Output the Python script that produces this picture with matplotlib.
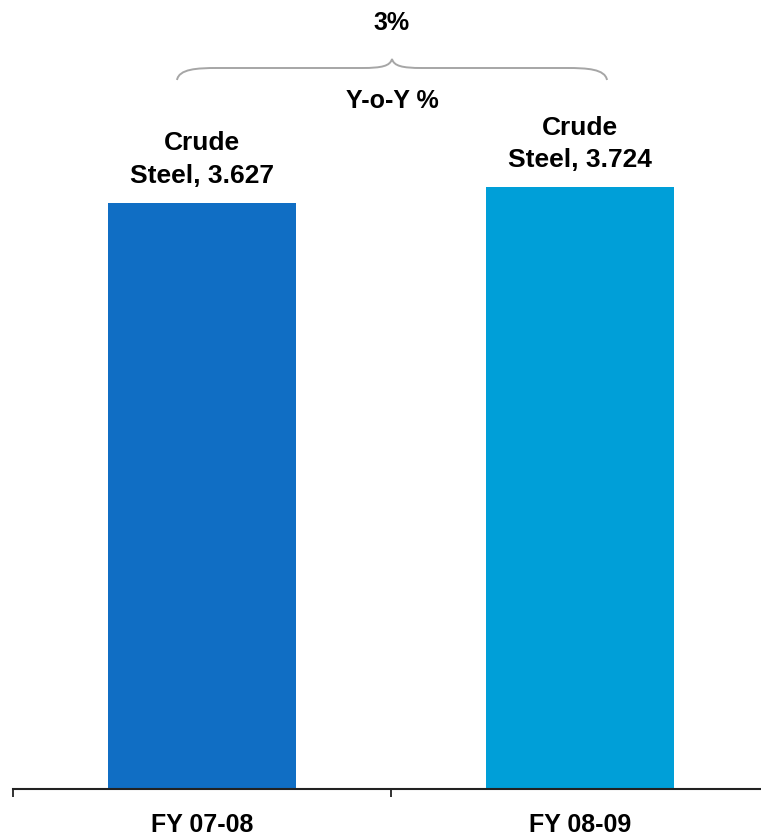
import matplotlib
matplotlib.use("Agg")
import matplotlib.pyplot as plt
from matplotlib.path import Path
from matplotlib.patches import PathPatch
from matplotlib.transforms import Affine2D

categories = ["FY 07-08", "FY 08-09"]
series_name = "Crude\nSteel"
values = [3.627, 3.724]
colors = ["#106EC4", "#009FD8"]
growth_label = "3%"
growth_caption = "Y-o-Y %"

W, H = 761, 839
fig = plt.figure(figsize=(W / 100, H / 100), dpi=100)
font = ["Liberation Sans", "DejaVu Sans"]

ax_left, ax_bottom = 13, 789  # pixels (from top)
ax = fig.add_axes([ax_left / W, (H - ax_bottom) / H, (W - ax_left) / W, ax_bottom / H])
unit_px = 378.0

x = list(range(len(categories)))
ax.bar(x, values, width=0.497, color=colors, zorder=2)

for xi, v in zip(x, values):
    ax.annotate(f"{series_name}, {v:.3f}", (xi, v), xytext=(0, 14.4), textcoords="offset points",
                ha="center", va="baseline", fontsize=19, fontweight="bold", family=font,
                linespacing=1.45)

for s in ["top", "right", "left"]:
    ax.spines[s].set_visible(False)
ax.spines["bottom"].set_linewidth(1.5)
ax.spines["bottom"].set_color("#222222")
ax.set_yticks([])
ax.set_xticks([-0.5, 0.5, 1.5])
ax.set_xticklabels([])
ax.tick_params(axis="x", which="major", length=5.5, width=1.3, color="#222222", direction="out")
ax.set_xticks(x, minor=True)
ax.set_xticklabels(categories, minor=True, fontsize=18, fontweight="bold", family=font)
ax.tick_params(axis="x", which="minor", length=0, pad=17)
ax.set_xlim(-0.5, -0.5 + (W - ax_left) / unit_px)
ax.set_ylim(0, ax_bottom / 161.6)

# Brace (figure pixel coordinates, origin top-left)
tr = Affine2D().scale(1, -1).translate(0, H)
x0, x1, xc = 177, 607, 392
ye, yf, yt = 80, 68, 59
verts = [
    (x0, ye), (x0 + 2, yf + 1), (x0 + 20, yf), (x0 + 40, yf),
    (xc - 30, yf),
    (xc - 10, yf), (xc - 2, yf - 2), (xc, yt),
    (xc + 2, yf - 2), (xc + 10, yf), (xc + 30, yf),
    (x1 - 40, yf),
    (x1 - 20, yf), (x1 - 2, yf + 1), (x1, ye),
]
codes = [Path.MOVETO, Path.CURVE4, Path.CURVE4, Path.CURVE4,
         Path.LINETO,
         Path.CURVE4, Path.CURVE4, Path.CURVE4,
         Path.CURVE4, Path.CURVE4, Path.CURVE4,
         Path.LINETO,
         Path.CURVE4, Path.CURVE4, Path.CURVE4]
patch = PathPatch(Path(verts, codes), facecolor="none", edgecolor="#A6A6A6", lw=1.4)
patch.set_transform(tr)
fig.patches.append(patch)

fig.text(xc / W, 1 - 23 / H, growth_label, ha="center", va="center", fontsize=18,
         fontweight="bold", family=font)
fig.text(xc / W, 1 - 101 / H, growth_caption, ha="center", va="center", fontsize=18,
         fontweight="bold", family=font)

fig.savefig("out.png", dpi=100)
